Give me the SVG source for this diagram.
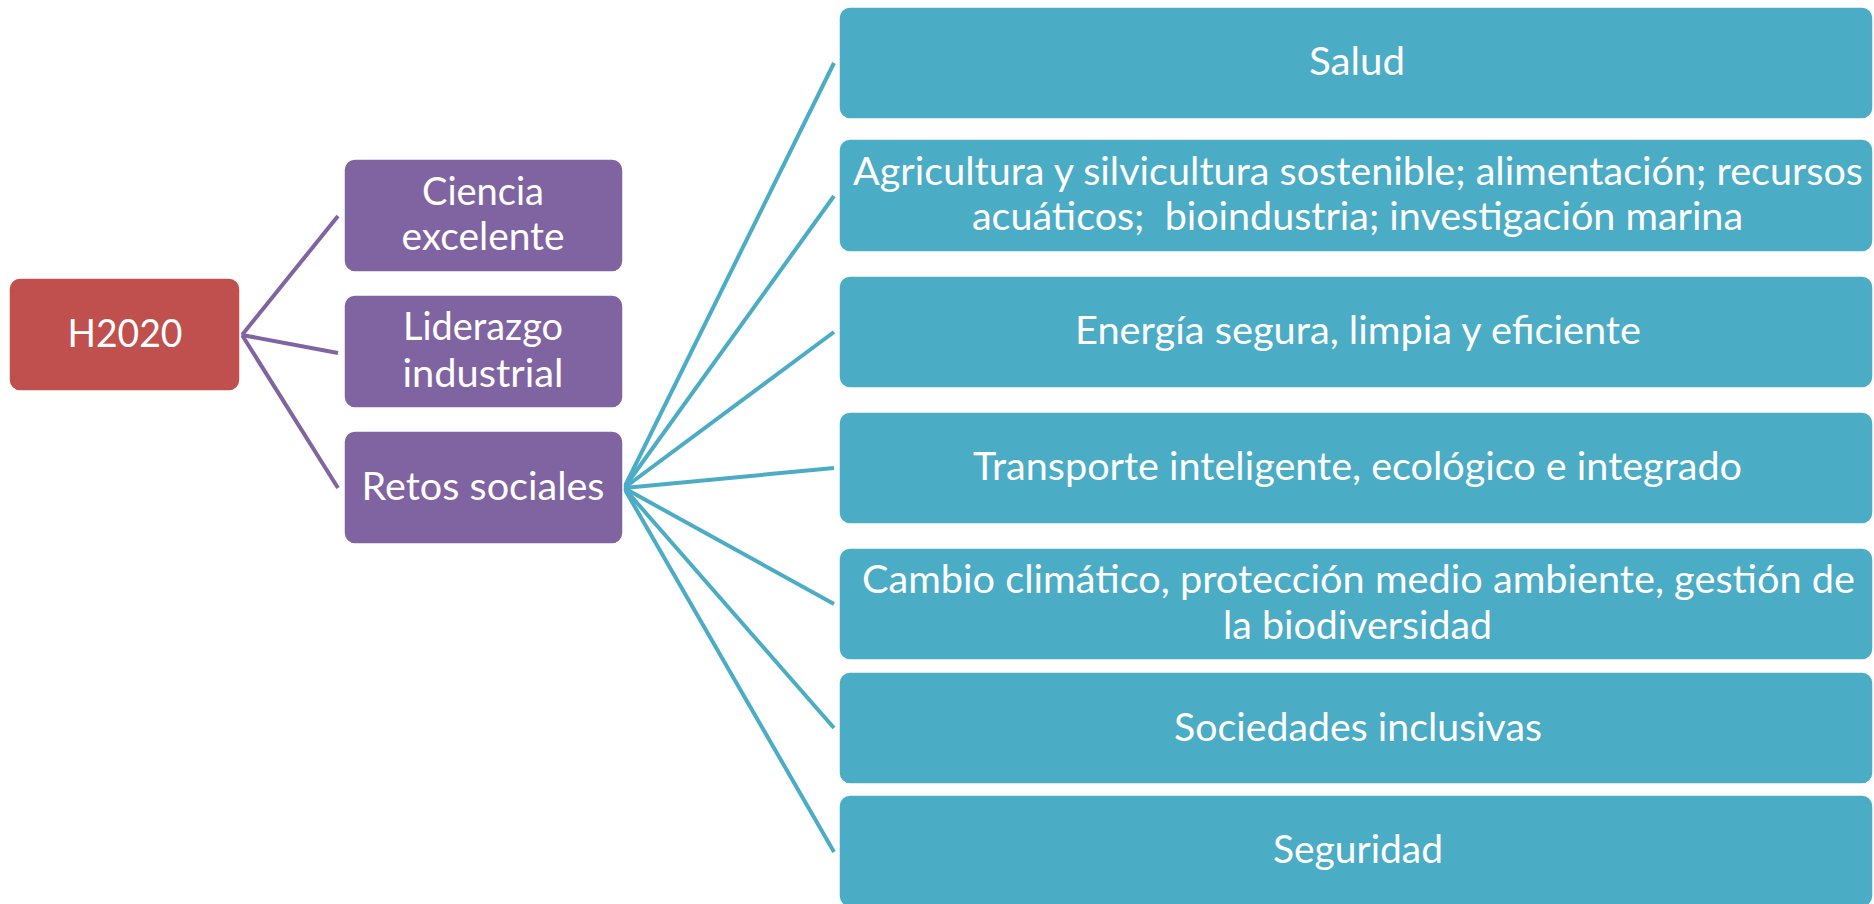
<svg xmlns="http://www.w3.org/2000/svg" width="1874" height="904" viewBox="0 0 1874 904">
<style>
.t{font-family:Lato,"Liberation Sans",sans-serif;font-size:38px;fill:#fff;text-anchor:middle}
.red{fill:#C0504D;stroke:#fff;stroke-width:1.5}
.pur{fill:#8064A2;stroke:#fff;stroke-width:1.5}
.blu{fill:#4BACC6;stroke:#fff;stroke-width:1.5}
.cp{stroke:#8064A2;stroke-width:4;fill:none}
.cb{stroke:#4BACC6;stroke-width:4;fill:none}
</style>
<rect width="1874" height="904" fill="#fff"/>
<g id="connectors">
<line class="cp" x1="242" y1="335" x2="338" y2="216"/>
<line class="cp" x1="242" y1="335" x2="338" y2="353"/>
<line class="cp" x1="242" y1="335" x2="338" y2="488"/>
<line class="cb" x1="624" y1="488" x2="834" y2="63"/>
<line class="cb" x1="624" y1="488" x2="834" y2="196"/>
<line class="cb" x1="624" y1="488" x2="834" y2="332"/>
<line class="cb" x1="624" y1="488" x2="834" y2="468"/>
<line class="cb" x1="624" y1="488" x2="834" y2="604"/>
<line class="cb" x1="624" y1="488" x2="834" y2="728"/>
<line class="cb" x1="624" y1="488" x2="834" y2="852"/>
</g>
<g id="h2020"><rect class="red" x="9" y="278" width="231" height="113" rx="11"/><text class="t" x="125" y="347" textLength="115" lengthAdjust="spacingAndGlyphs">H2020</text></g>
<g id="ciencia"><rect class="pur" x="344" y="159" width="279" height="113" rx="11"/><text class="t" x="483" y="205" textLength="122" lengthAdjust="spacingAndGlyphs">Ciencia</text><text class="t" x="483" y="250" textLength="163" lengthAdjust="spacingAndGlyphs">excelente</text></g>
<g id="liderazgo"><rect class="pur" x="344" y="295" width="279" height="113" rx="11"/><text class="t" x="483" y="340" textLength="160" lengthAdjust="spacingAndGlyphs">Liderazgo</text><text class="t" x="483" y="387" textLength="161" lengthAdjust="spacingAndGlyphs">industrial</text></g>
<g id="retos"><rect class="pur" x="344" y="431" width="279" height="113" rx="11"/><text class="t" x="483" y="500" textLength="243" lengthAdjust="spacingAndGlyphs">Retos sociales</text></g>
<g id="salud"><rect class="blu" x="839" y="7" width="1034" height="112" rx="11"/><text class="t" x="1357" y="75" textLength="96" lengthAdjust="spacingAndGlyphs">Salud</text></g>
<g id="agricultura"><rect class="blu" x="839" y="139" width="1034" height="113" rx="11"/><text class="t" x="1358" y="185" textLength="1010" lengthAdjust="spacingAndGlyphs">Agricultura y silvicultura sostenible; alimentación; recursos</text><text class="t" x="1357.5" y="230" textLength="771" lengthAdjust="spacingAndGlyphs" xml:space="preserve" style="white-space:pre">acuáticos;  bioindustria; investigación marina</text></g>
<g id="energia"><rect class="blu" x="839" y="276" width="1034" height="112" rx="11"/><text class="t" x="1358" y="344" textLength="566" lengthAdjust="spacingAndGlyphs">Energía segura, limpia y eficiente</text></g>
<g id="transporte"><rect class="blu" x="839" y="412" width="1034" height="112" rx="11"/><text class="t" x="1357.5" y="480" textLength="769" lengthAdjust="spacingAndGlyphs">Transporte inteligente, ecológico e integrado</text></g>
<g id="cambio"><rect class="blu" x="839" y="548" width="1034" height="112" rx="11"/><text class="t" x="1358.5" y="593" textLength="993" lengthAdjust="spacingAndGlyphs">Cambio climático, protección medio ambiente, gestión de</text><text class="t" x="1357.5" y="639" textLength="269" lengthAdjust="spacingAndGlyphs">la biodiversidad</text></g>
<g id="sociedades"><rect class="blu" x="839" y="672" width="1034" height="112" rx="11"/><text class="t" x="1358" y="741" textLength="368" lengthAdjust="spacingAndGlyphs">Sociedades inclusivas</text></g>
<g id="seguridad"><rect class="blu" x="839" y="795" width="1034" height="112" rx="11"/><text class="t" x="1358" y="863" textLength="170" lengthAdjust="spacingAndGlyphs">Seguridad</text></g>
</svg>
